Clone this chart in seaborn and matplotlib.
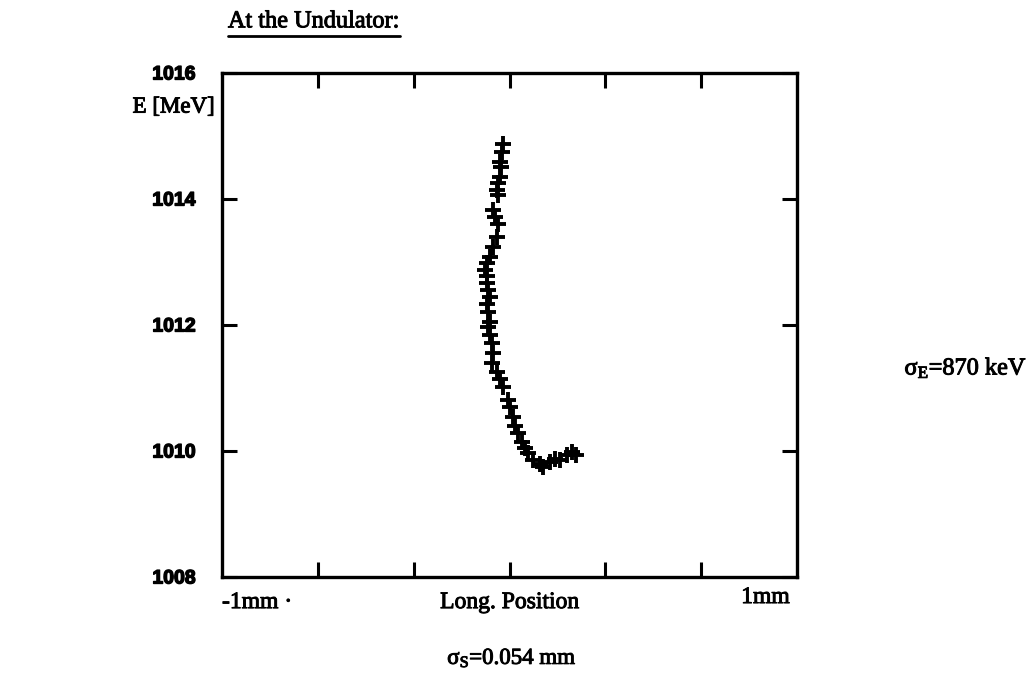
import matplotlib
matplotlib.use("Agg")
import matplotlib.pyplot as plt
import matplotlib.patheffects as pe
from matplotlib.lines import Line2D
import seaborn as sns
import pandas as pd

# Longitudinal position [mm] and energy [MeV] of the tracked macro-particles
long_pos_mm = [
    -0.022, -0.027, -0.033, -0.031, -0.033, -0.039, -0.045, -0.039,
    -0.056, -0.050, -0.039, -0.045, -0.056, -0.068, -0.079, -0.085,
    -0.079, -0.079, -0.074, -0.068, -0.079, -0.074, -0.068,
    -0.074, -0.068, -0.062, -0.056, -0.062, -0.045, -0.033, -0.022,
    -0.004, 0.002, 0.013, 0.019, 0.031, 0.042, 0.054, 0.065,
    0.083, 0.106, 0.118, 0.141, 0.158, 0.176, 0.199, 0.216, 0.230,
]
energy_mev = [
    1014.88, 1014.75, 1014.59, 1014.51, 1014.35, 1014.25, 1014.14, 1014.06,
    1013.83, 1013.72, 1013.61, 1013.40, 1013.24, 1013.08, 1012.98, 1012.87,
    1012.77, 1012.66, 1012.56, 1012.45, 1012.34, 1012.21, 1012.05,
    1011.97, 1011.84, 1011.71, 1011.55, 1011.39, 1011.26, 1011.15, 1011.02,
    1010.81, 1010.70, 1010.54, 1010.39, 1010.28, 1010.15, 1010.04, 1009.96,
    1009.86, 1009.80, 1009.75, 1009.83, 1009.88, 1009.86, 1009.94, 1009.99, 1009.94,
]

y_ticks = [1008, 1010, 1012, 1014, 1016]
y_tick_labels = ["1008", "1010", "1012", "1014", "1016"]
x_ticks = [-2 / 3, -1 / 3, 0.0, 1 / 3, 2 / 3]
x_edge_labels = ["-1mm \u00b7", "1mm"]

title_text = "At the Undulator:"
y_label = "E [MeV]"
x_label = "Long. Position"
sigma_s_text = "\u03c3$_\\mathrm{S}$=0.054 mm"
sigma_e_text = "\u03c3$_\\mathrm{E}$=870 keV"

sns.set_theme(style="white")
plt.rcParams["font.family"] = ["Liberation Serif", "DejaVu Serif"]
plt.rcParams["mathtext.fontset"] = "custom"
plt.rcParams["mathtext.rm"] = "Liberation Serif"
plt.rcParams["mathtext.it"] = "Liberation Serif:italic"
plt.rcParams["mathtext.bf"] = "Liberation Serif:bold"

# slightly heavier strokes for the printed lettering
heavy = [pe.withStroke(linewidth=0.7, foreground="black")]

df = pd.DataFrame({"pos": long_pos_mm, "E": energy_mev})

fig = plt.figure(figsize=(10.36, 6.82), dpi=100)
ax = fig.add_axes([0.2143, 0.154, 0.555, 0.739])

sns.scatterplot(data=df, x="pos", y="E", marker="+", color="black",
                s=125, linewidth=2.8, ax=ax, legend=False)

ax.set_xlim(-1, 1)
ax.set_ylim(1008, 1016)
ax.set_xlabel("")
ax.set_ylabel("")

for sp in ax.spines.values():
    sp.set_visible(True)
    sp.set_color("black")
    sp.set_linewidth(2.4)

ax.set_xticks(x_ticks)
ax.set_xticklabels([])
ax.set_yticks(y_ticks)
ax.set_yticklabels(y_tick_labels, fontfamily="Liberation Sans",
                   fontweight="bold", fontsize=14)
ax.tick_params(axis="x", which="both", direction="in", length=11, width=2.2,
               top=True, bottom=True, colors="black")
ax.tick_params(axis="y", which="both", direction="in", length=11, width=2.2,
               left=True, right=True, pad=19, colors="black")
for lbl in ax.get_yticklabels():
    lbl.set_color("black")
    lbl.set_path_effects([pe.withStroke(linewidth=1.0, foreground="black")])

# Axis annotations
ax.text(-1.0, -0.03, x_edge_labels[0], transform=ax.get_xaxis_transform(),
        ha="left", va="top", fontsize=17, color="black", path_effects=heavy)
ax.text(0.975, -0.02, x_edge_labels[1], transform=ax.get_xaxis_transform(),
        ha="right", va="top", fontsize=17, color="black", path_effects=heavy)
ax.text(0.0, -0.03, x_label, transform=ax.get_xaxis_transform(),
        ha="center", va="top", fontsize=17, color="black", path_effects=heavy)

fig.text(0.494, 0.035, sigma_s_text, ha="center", va="center",
         fontsize=16.5, color="black", path_effects=heavy)
fig.text(0.873, 0.460, sigma_e_text, ha="left", va="center",
         fontsize=17.5, color="black", path_effects=heavy)
fig.text(0.128, 0.843, y_label, ha="left", va="center",
         fontsize=16.5, color="black", path_effects=heavy)

title = fig.text(0.220, 0.968, title_text, ha="left", va="center",
                 fontsize=17.5, color="black", path_effects=heavy)

# Underline the heading
fig.canvas.draw()
bb = title.get_window_extent()
w, h = fig.bbox.width, fig.bbox.height
y_line = (bb.y0 - 4) / h
fig.add_artist(Line2D([bb.x0 / w, bb.x1 / w], [y_line, y_line],
                      transform=fig.transFigure, color="black", linewidth=2.0))

fig.savefig("out.png", dpi=100, facecolor="white")
